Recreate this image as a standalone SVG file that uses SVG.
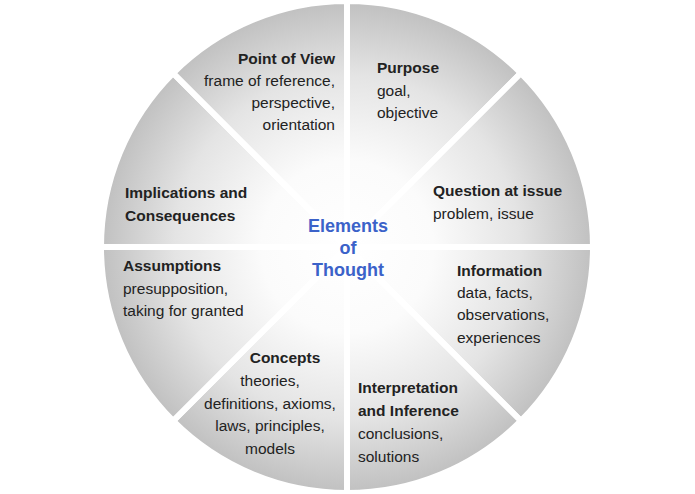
<svg xmlns="http://www.w3.org/2000/svg" width="695" height="494" viewBox="0 0 695 494">
<defs>
<radialGradient id="g" gradientUnits="userSpaceOnUse" cx="347" cy="247" r="246">
<stop offset="0" stop-color="#ffffff"/><stop offset="0.35" stop-color="#fbfbfb"/><stop offset="0.7" stop-color="#e4e4e4"/><stop offset="1" stop-color="#c0c0c0"/>
</radialGradient>
</defs>
<style>
.s{fill:url(#g);stroke:#fff;stroke-width:6}
text{font-family:"Liberation Sans",Arial,sans-serif;font-size:15.5px;fill:#222}
.b{font-weight:bold}
.c{font-weight:bold;font-size:18px;fill:#3b62c9;text-anchor:middle}
</style>
<rect width="695" height="494" fill="#fff"/>
<g id="segments">
<path class="s" d="M347,247 L347,1 A246,246 0 0 1 520.9,73.1 Z"/>
<path class="s" d="M347,247 L520.9,73.1 A246,246 0 0 1 593,247 Z"/>
<path class="s" d="M347,247 L593,247 A246,246 0 0 1 520.9,420.9 Z"/>
<path class="s" d="M347,247 L520.9,420.9 A246,246 0 0 1 347,493 Z"/>
<path class="s" d="M347,247 L347,493 A246,246 0 0 1 173.1,420.9 Z"/>
<path class="s" d="M347,247 L173.1,420.9 A246,246 0 0 1 101,247 Z"/>
<path class="s" d="M347,247 L101,247 A246,246 0 0 1 173.1,73.1 Z"/>
<path class="s" d="M347,247 L173.1,73.1 A246,246 0 0 1 347,1 Z"/>
</g>
<g id="pov" text-anchor="end"><text x="335" y="64" class="b">Point of View</text><text x="335" y="86">frame of reference,</text><text x="335" y="108">perspective,</text><text x="335" y="130">orientation</text></g>
<g id="purpose"><text x="377" y="73" class="b">Purpose</text><text x="377" y="96">goal,</text><text x="377" y="118">objective</text></g>
<g id="question"><text x="433" y="196" class="b">Question at issue</text><text x="433" y="219">problem, issue</text></g>
<g id="information"><text x="457" y="276" class="b">Information</text><text x="457" y="298">data, facts,</text><text x="457" y="320">observations,</text><text x="457" y="343">experiences</text></g>
<g id="interpretation"><text x="358" y="393" class="b">Interpretation</text><text x="358" y="416" class="b">and Inference</text><text x="358" y="439">conclusions,</text><text x="358" y="462">solutions</text></g>
<g id="concepts" text-anchor="middle"><text x="285" y="363" class="b">Concepts</text><text x="270" y="386">theories,</text><text x="270" y="409">definitions, axioms,</text><text x="270" y="431">laws, principles,</text><text x="270" y="454">models</text></g>
<g id="assumptions"><text x="123" y="271" class="b">Assumptions</text><text x="123" y="294">presupposition,</text><text x="123" y="316">taking for granted</text></g>
<g id="implications"><text x="125" y="198" class="b">Implications and</text><text x="125" y="221" class="b">Consequences</text></g>
<g id="center"><text x="348" y="232" class="c">Elements</text><text x="348" y="254" class="c">of</text><text x="348" y="276" class="c">Thought</text></g>
<g id="connectors"/>
</svg>
